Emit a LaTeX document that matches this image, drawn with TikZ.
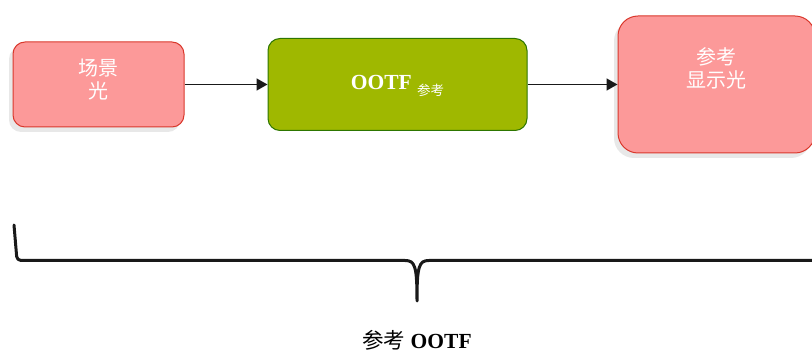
\documentclass[tikz,border=0pt]{standalone}
\usepackage{fontspec}
\setmainfont{Liberation Serif}
\newfontfamily\cjk{Noto Sans CJK SC}
\usetikzlibrary{shadows,arrows.meta}
\definecolor{boxpink}{HTML}{FC9999}
\definecolor{boxred}{HTML}{D9382C}
\definecolor{ootfgreen}{HTML}{9FB800}
\definecolor{ootfedge}{HTML}{2D7600}

\begin{document}
\begin{tikzpicture}[x=1pt,y=-1pt,
  lightbox/.style={draw=boxred,fill=boxpink,line width=1pt,rounded corners=12pt,
    text=white,align=center,font=\fontsize{20}{23}\selectfont\cjk,
    drop shadow={shadow xshift=-4pt,shadow yshift=-5pt,fill=black!9,opacity=1}},
  ootfbox/.style={draw=ootfedge,fill=ootfgreen,line width=1pt,rounded corners=12pt,
    text=white,font=\fontsize{21.5}{24}\selectfont},
  flow/.style={draw=black!90,line width=1.6pt,-{Triangle[length=11pt,width=12pt]}},
  brace/.style={draw=black!90,line width=3pt,line cap=round,line join=round}]

\useasboundingbox (0,0) rectangle (812,352);

%boxes
\node[lightbox,minimum width=171pt,minimum height=85pt,text depth=12pt] (scene) at (98.5,84.5) {场景\\光};
\node[ootfbox,minimum width=259pt,minimum height=92pt,text height=18pt] (ootf) at (397.5,84.5) {\textbf{OOTF}\ \raisebox{-6pt}{\fontsize{13.5}{14}\selectfont\cjk 参考}};
\node[lightbox,minimum width=197pt,minimum height=137pt,rounded corners=20pt,text depth=34pt] (display) at (716.5,84.5) {参考\\显示光};

%arrows
\draw[flow] (scene) -- (ootf);
\draw[flow] (ootf) -- (display);

%brace
\draw[brace,rounded corners=4pt] (14,225) -- (17,260.5) -- (405,260.5);
\draw[brace] (405,260.5) .. controls (415,260.5) and (417,266) .. (417,301)
  .. controls (417,266) and (419,260.5) .. (429,260.5) -- (830,260.5);

%label
\node[font=\fontsize{21.5}{24}\selectfont] (total) at (417,340) {{\cjk 参考} \textbf{OOTF}};
\end{tikzpicture}
\end{document}
